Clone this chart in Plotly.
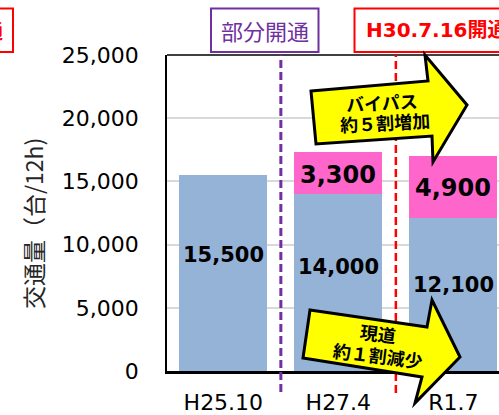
import plotly.graph_objects as go

# ---- data ----
categories = ["H25.10", "H27.4", "R1.7"]
current_road = [15500, 14000, 12100]      # 現道
bypass = [None, 3300, 4900]               # バイパス
y_ticks = [0, 5000, 10000, 15000, 20000, 25000]
y_tick_text = ["0", "5,000", "10,000", "15,000", "20,000", "25,000"]

BLUE = "#95B3D7"
PINK = "#FF66CC"
NUM_FONT = "DejaVu Sans"
JP_FONT = "Noto Sans CJK JP"

W, H = 499, 415
ML, MT, MB, MR = 167, 55, 44, 0
PW = W - ML - MR
PH = H - MT - MB
X0 = -0.49
X1 = X0 + PW / 115.0


def px(x):
    return (x - ML) / PW


def py(y):
    return (H - MB - y) / PH


def dx(v):
    return (v - X0) / (X1 - X0)


fig = go.Figure()
fig.add_trace(go.Bar(x=categories, y=current_road, marker=dict(color=BLUE, line=dict(width=0)),
                     hoverinfo="skip"))
fig.add_trace(go.Bar(x=categories, y=bypass, marker=dict(color=PINK, line=dict(width=0)),
                     hoverinfo="skip"))

annotations = []


def note(x, y, text, size, color, family=JP_FONT, angle=0, xanchor="center", xref="paper", yref="paper"):
    annotations.append(dict(x=x, y=y, xref=xref, yref=yref, text=text, textangle=angle,
                            xanchor=xanchor, yanchor="middle", showarrow=False,
                            font=dict(family=family, size=size, color=color)))


# value labels
blue_frac = [0.59, 0.59, 0.565]
for i, v in enumerate(current_road):
    note(categories[i], v * blue_frac[i], f"<b>{v:,}</b>", 21, "black", NUM_FONT, xref="x", yref="y")
pink_frac = [0.5, 0.45, 0.49]
for i, v in enumerate(bypass):
    if v:
        note(categories[i], current_road[i] + v * pink_frac[i], f"<b>{v:,}</b>", 24, "black", NUM_FONT,
             xref="x", yref="y")

# y-axis title
note(px(33), py(224), "交通量（台/12h)", 23, "#262626", angle=-90)

# top labels
note(px(264.5), py(30), "部分開通", 22, "#7030A0")
note(px(364), py(30), "<b>H30.7.16開通</b>", 20, "#FF0000", NUM_FONT + ", " + JP_FONT, xanchor="left")
note(px(5), py(30), "<b>開通</b>", 20, "#FF0000", xanchor="right")

# arrow texts
note(px(382), py(102), "<b>バイパス</b>", 18, "black", angle=-3)
note(px(385), py(122), "<b>約５割増加</b>", 18, "black", angle=-3)
note(px(378), py(333), "<b>現道</b>", 18, "black", angle=7)
note(px(378), py(355), "<b>約１割減少</b>", 18, "black", angle=7)


def poly(points):
    return "M " + " L ".join(f"{px(a):.5f},{py(b):.5f}" for a, b in points) + " Z"


up_arrow = [(311, 91), (428, 81), (425, 55), (467, 105), (433, 162), (432, 136), (316, 144)]
down_arrow = [(310, 310), (427, 327), (432, 300), (460, 357), (415, 403), (422, 377), (303, 358)]

shapes = [
    # top border
    dict(type="line", xref="paper", yref="paper", x0=0, x1=1.05, y0=1, y1=1,
         line=dict(color="black", width=1.5)),
    # dashed separators
    dict(type="line", xref="paper", yref="paper", x0=dx(0.5), x1=dx(0.5), y0=py(392), y1=1,
         line=dict(color="#7030A0", width=3, dash="8px,4px")),
    dict(type="line", xref="paper", yref="paper", x0=dx(1.5), x1=dx(1.5), y0=py(393), y1=1,
         line=dict(color="#FF0000", width=2.5, dash="8px,4px")),
    # label boxes
    dict(type="rect", xref="paper", yref="paper", x0=px(211), x1=px(318.5), y0=py(52), y1=py(8.5),
         line=dict(color="#7030A0", width=2), fillcolor="white", layer="below"),
    dict(type="rect", xref="paper", yref="paper", x0=px(354.5), x1=px(560), y0=py(52), y1=py(8.5),
         line=dict(color="#FF0000", width=2), fillcolor="white", layer="below"),
    dict(type="rect", xref="paper", yref="paper", x0=px(-150), x1=px(13), y0=py(52), y1=py(8.5),
         line=dict(color="#FF0000", width=2), fillcolor="white", layer="below"),
    # arrows
    dict(type="path", xref="paper", yref="paper", path=poly(up_arrow),
         fillcolor="#FFFF00", line=dict(color="black", width=3), layer="above"),
    dict(type="path", xref="paper", yref="paper", path=poly(down_arrow),
         fillcolor="#FFFF00", line=dict(color="black", width=3), layer="above"),
]

fig.update_layout(
    width=W, height=H,
    margin=dict(l=ML, r=MR, t=MT, b=MB, pad=0),
    paper_bgcolor="white", plot_bgcolor="white",
    barmode="stack", bargap=0.235, showlegend=False,
    annotations=annotations, shapes=shapes,
    xaxis=dict(range=[X0, X1], showline=True, linecolor="black", linewidth=2.5,
               ticks="", showgrid=False, zeroline=False, fixedrange=True,
               tickfont=dict(family=NUM_FONT, size=22, color="black"), ticklabelstandoff=10),
    yaxis=dict(range=[0, 25000], tickvals=y_ticks, ticktext=y_tick_text,
               showline=True, linecolor="black", linewidth=1.5,
               showgrid=True, gridcolor="#D9D9D9", gridwidth=1.5, zeroline=False, ticks="",
               tickfont=dict(family=NUM_FONT, size=22, color="black"), ticklabelstandoff=22,
               fixedrange=True),
)

fig.write_html("out.html", config={"displayModeBar": False},
               post_script="document.body.style.margin='0px';document.body.style.overflow='hidden';")
